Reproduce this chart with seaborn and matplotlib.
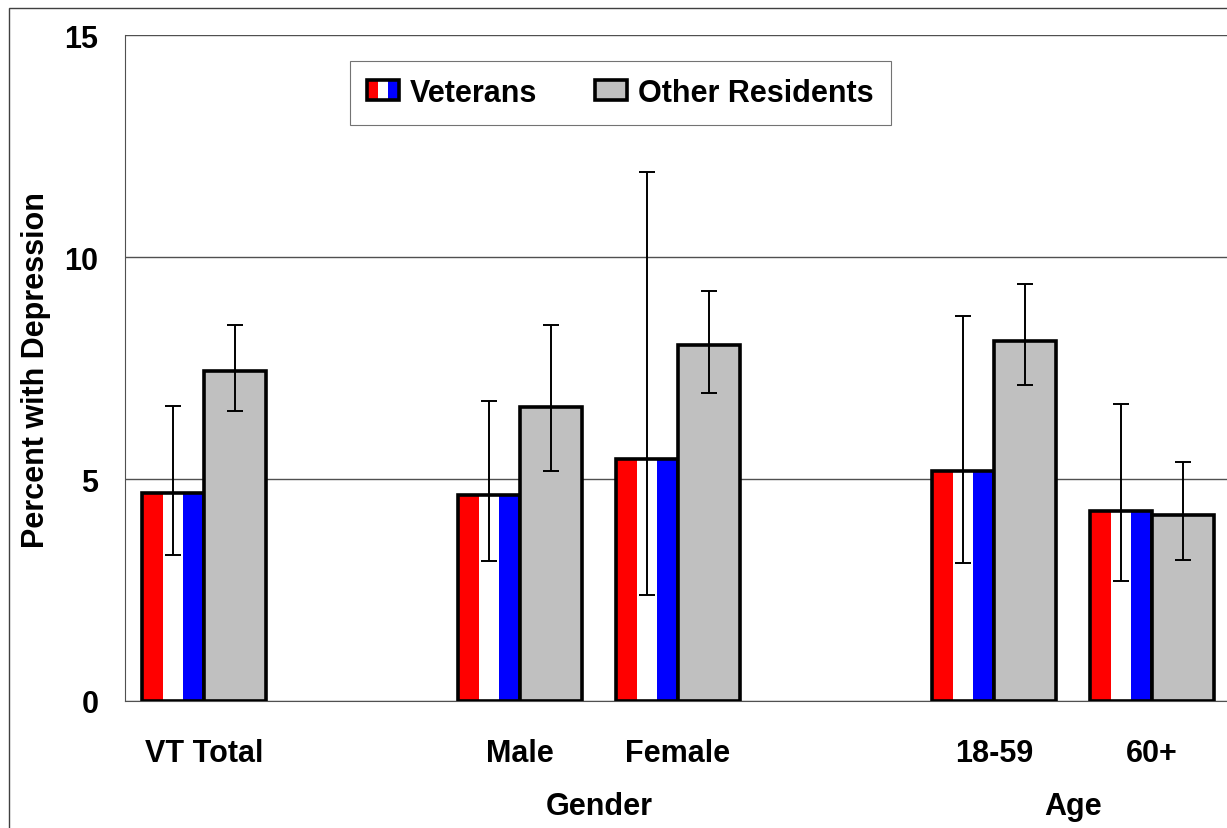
import numpy as np
import pandas as pd
import matplotlib
matplotlib.use('Agg')
import matplotlib.pyplot as plt
import seaborn as sns
from matplotlib import font_manager
from matplotlib.patches import Rectangle
from matplotlib.legend_handler import HandlerBase
import matplotlib.transforms as mtransforms

# Values (percent with depression, with CI bounds)
categories = ["VT Total", "Male", "Female", "18-59", "60+"]
veterans = [4.68, 4.63, 5.45, 5.18, 4.27]
veterans_lo = [3.29, 3.15, 2.39, 3.10, 2.70]
veterans_hi = [6.65, 6.75, 11.92, 8.67, 6.70]
others = [7.43, 6.63, 8.02, 8.11, 4.18]
others_lo = [6.53, 5.17, 6.93, 7.11, 3.18]
others_hi = [8.47, 8.46, 9.23, 9.39, 5.39]

# category order on the axis, with empty slots between groups
slot_order = ["VT Total", "_gap1", "Male", "Female", "_gap2", "18-59", "60+"]
group_labels = {"Gender": ("Male", "Female"), "Age": ("18-59", "60+")}
series = ["Veterans", "Other Residents"]
stripe_colors = ["#FF0000", "#FFFFFF", "#0000FF"]
gray = "#C0C0C0"

df = pd.DataFrame({
    "category": categories * 2,
    "series": [series[0]] * len(categories) + [series[1]] * len(categories),
    "value": veterans + others,
    "lo": veterans_lo + others_lo,
    "hi": veterans_hi + others_hi,
})

sns.set_style("white")
names = {f.name for f in font_manager.fontManager.ttflist}
narrow = "Liberation Sans Narrow" if "Liberation Sans Narrow" in names else "Liberation Sans"
plt.rcParams["font.family"] = ["Liberation Sans", "DejaVu Sans"]
plt.rcParams["font.weight"] = "bold"
for key in ["text.color", "axes.labelcolor", "xtick.color", "ytick.color"]:
    plt.rcParams[key] = "black"

fig = plt.figure(figsize=(12.27, 8.29), dpi=100)
ax = fig.add_axes([125 / 1227, 1 - 702 / 829, 1106 / 1227, 666 / 829])

sns.barplot(data=df, x="category", y="value", hue="series", order=slot_order,
            hue_order=series, palette=["white", gray], width=0.78,
            edgecolor="black", linewidth=2.6, legend=False, ax=ax, zorder=3)

# stripes inside the veterans bars + error bars
stripes = np.array([[matplotlib.colors.to_rgb(c) for c in stripe_colors]])
for cont, s in zip(ax.containers, series):
    for bar in cont:
        if np.isnan(bar.get_height()):
            continue
        cx = bar.get_x() + bar.get_width() / 2
        cat = slot_order[int(round(cx))]
        row = df[(df["category"] == cat) & (df["series"] == s)].iloc[0]
        if s == "Veterans":
            bar.set_facecolor("none")
            img = ax.imshow(stripes, extent=(bar.get_x(), bar.get_x() + bar.get_width(),
                                              0, bar.get_height()),
                            aspect="auto", interpolation="nearest", zorder=2.5)
            img.set_clip_path(bar)
        ax.errorbar(cx, row["value"],
                    yerr=[[row["value"] - row["lo"]], [row["hi"] - row["value"]]],
                    fmt="none", ecolor="black", elinewidth=1.4, capsize=6,
                    capthick=1.4, zorder=4)

ax.set_xlim(-0.5, len(slot_order) - 0.5)
ax.set_ylim(0, 15)

# axes styling
ax.set_axisbelow(True)
ax.yaxis.grid(True, color="#505050", linewidth=1.0)
ax.set_yticks([0, 5, 10, 15])
ax.set_yticklabels(["0", "5", "10", "15"], fontsize=22, fontweight="bold")
ax.tick_params(axis="y", length=7.2, width=0.8, color="#505050", pad=12, direction="out")
ax.set_xticks(range(len(slot_order)))
ax.set_xticklabels([c if not c.startswith("_") else "" for c in slot_order],
                   fontsize=22, fontweight="bold", family=[narrow, "Liberation Sans"])
ax.tick_params(axis="x", length=0, pad=27)
for side in ["top", "right"]:
    ax.spines[side].set_visible(False)
for side in ["left", "bottom"]:
    ax.spines[side].set_color("#505050")
    ax.spines[side].set_linewidth(0.8)
ax.set_xlabel("")
ax.set_ylabel("")

# group labels under the ticks
trans = mtransforms.blended_transform_factory(ax.transData, ax.transAxes)
for name, (a, b) in group_labels.items():
    xc = (slot_order.index(a) + slot_order.index(b)) / 2
    ax.text(xc, -0.157, name, transform=trans, ha="center", va="center",
            fontsize=22, fontweight="bold", family=[narrow, "Liberation Sans"])

fig.text(36 / 1227, 1 - 370 / 829, "Percent with Depression", rotation=90,
         ha="center", va="center", fontsize=22, fontweight="bold")

# legend with a striped handle
class StripeHandler(HandlerBase):
    def create_artists(self, legend, orig_handle, xdescent, ydescent, width, height, fontsize, trans):
        w = width / 3
        arts = [Rectangle((-xdescent + i * w, -ydescent), w, height, facecolor=c,
                          edgecolor="none", transform=trans)
                for i, c in enumerate(stripe_colors)]
        arts.append(Rectangle((-xdescent, -ydescent), width, height, facecolor="none",
                              edgecolor="black", linewidth=2.6, transform=trans))
        return arts


vet_handle = Rectangle((0, 0), 1, 1)
oth_handle = Rectangle((0, 0), 1, 1, facecolor=gray, edgecolor="black", linewidth=2.6)
leg = fig.legend([vet_handle, oth_handle], series, ncol=2,
                 handler_map={vet_handle: StripeHandler()},
                 loc="upper left", bbox_to_anchor=(350 / 1227, 1 - 62 / 829),
                 bbox_transform=fig.transFigure, borderaxespad=0,
                 prop={"size": 22, "weight": "bold"}, frameon=True, fancybox=False,
                 edgecolor="#505050", handlelength=1.05, handleheight=0.65,
                 handletextpad=0.36, columnspacing=1.9, borderpad=0.55)
leg.get_frame().set_linewidth(0.8)

# outer border of the chart area
fig.patches.append(Rectangle((9 / 1227, -0.1), 1.2, 1.1 - 9 / 829, transform=fig.transFigure,
                             facecolor="none", edgecolor="#404040", linewidth=1.0))

fig.savefig("out.png", dpi=100)
